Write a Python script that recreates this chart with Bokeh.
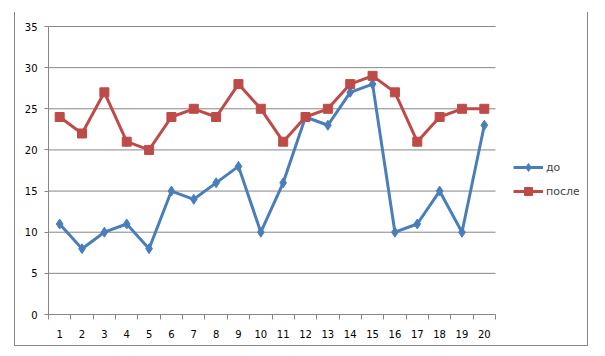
from bokeh.plotting import figure
from bokeh.models import Range1d, FixedTicker, Legend, LegendItem
from bokeh.embed import file_html
from bokeh.resources import INLINE

x_vals = list(range(1, 21))
do_vals = [11, 8, 10, 11, 8, 15, 14, 16, 18, 10, 16, 24, 23, 27, 28, 10, 11, 15, 10, 23]
posle_vals = [24, 22, 27, 21, 20, 24, 25, 24, 28, 25, 21, 24, 25, 28, 29, 27, 21, 24, 25, 25]
y_ticks = [0, 5, 10, 15, 20, 25, 30, 35]
series_names = ["до", "после"]

GRAY = "#868686"
BLUE = "#4A7EBB"
RED = "#BE4B48"
FONT = "DejaVu Sans"

# layout (pixels)
W, H = 574, 334
BL, BR, BT, BB = 33, 10, 13, 32
frame_w = W - BL - BR
frame_h = H - BT - BB
cat_px = 447.0 / 20          # width of a category in the plot area
unit_px = 288.0 / 35         # pixels per y unit
x_lo = 0.5
x_hi = x_lo + frame_w / cat_px
y_hi = frame_h / unit_px

p = figure(width=W, height=H, output_backend="svg", toolbar_location=None,
           x_range=Range1d(x_lo, x_hi), y_range=Range1d(0, y_hi),
           min_border_left=BL, min_border_right=BR, min_border_top=BT,
           min_border_bottom=BB)
p.margin = (12, 0, 0, 14)
p.styles = {"border-left": "1px solid #868686",
            "border-right": "1px solid #868686",
            "border-bottom": "1px solid #868686"}
p.outline_line_color = None
p.background_fill_color = "white"
p.border_fill_color = "white"
p.xgrid.grid_line_color = None
p.ygrid.grid_line_color = None

# axes
p.xaxis.ticker = FixedTicker(ticks=x_vals, minor_ticks=[i + 0.5 for i in range(0, 21)])
p.xaxis.bounds = (0.5, 20.5)
p.xaxis.major_tick_out = 0
p.xaxis.major_tick_in = 0
p.xaxis.minor_tick_out = 5
p.xaxis.minor_tick_in = 0
p.xaxis.minor_tick_line_color = GRAY
p.xaxis.axis_line_color = GRAY
p.xaxis.major_label_standoff = 10
p.yaxis.ticker = FixedTicker(ticks=y_ticks)
p.yaxis.bounds = (0, 35)
p.yaxis.major_tick_out = 4
p.yaxis.major_tick_in = 0
p.yaxis.minor_tick_out = 0
p.yaxis.minor_tick_in = 0
p.yaxis.major_tick_line_color = GRAY
p.yaxis.axis_line_color = GRAY
p.yaxis.major_label_standoff = 7
for ax in (p.xaxis, p.yaxis):
    ax.major_label_text_font = FONT
    ax.major_label_text_font_size = "10px"
    ax.major_label_text_color = "black"

# horizontal gridlines over the category span only
p.segment(x0=[0.5] * len(y_ticks), x1=[20.5] * len(y_ticks), y0=y_ticks, y1=y_ticks,
          line_color=GRAY, line_width=1)

# series
l1 = p.line(x_vals, do_vals, line_color=BLUE, line_width=3)
m1 = p.scatter(x_vals, do_vals, marker="diamond", size=10, fill_color=BLUE, line_color=BLUE)
l2 = p.line(x_vals, posle_vals, line_color=RED, line_width=3)
m2 = p.scatter(x_vals, posle_vals, marker="square", size=9, fill_color=RED, line_color=RED)

legend = Legend(items=[LegendItem(label=series_names[0], renderers=[l1, m1]),
                       LegendItem(label=series_names[1], renderers=[l2, m2])],
                location=(465, 113), padding=0, margin=0, spacing=4,
                glyph_width=30, glyph_height=20, label_standoff=3,
                label_text_font=FONT, label_text_font_size="11px",
                border_line_color=None, background_fill_alpha=0)
p.add_layout(legend, "center")

open("out.html", "w").write(file_html(p, INLINE))
